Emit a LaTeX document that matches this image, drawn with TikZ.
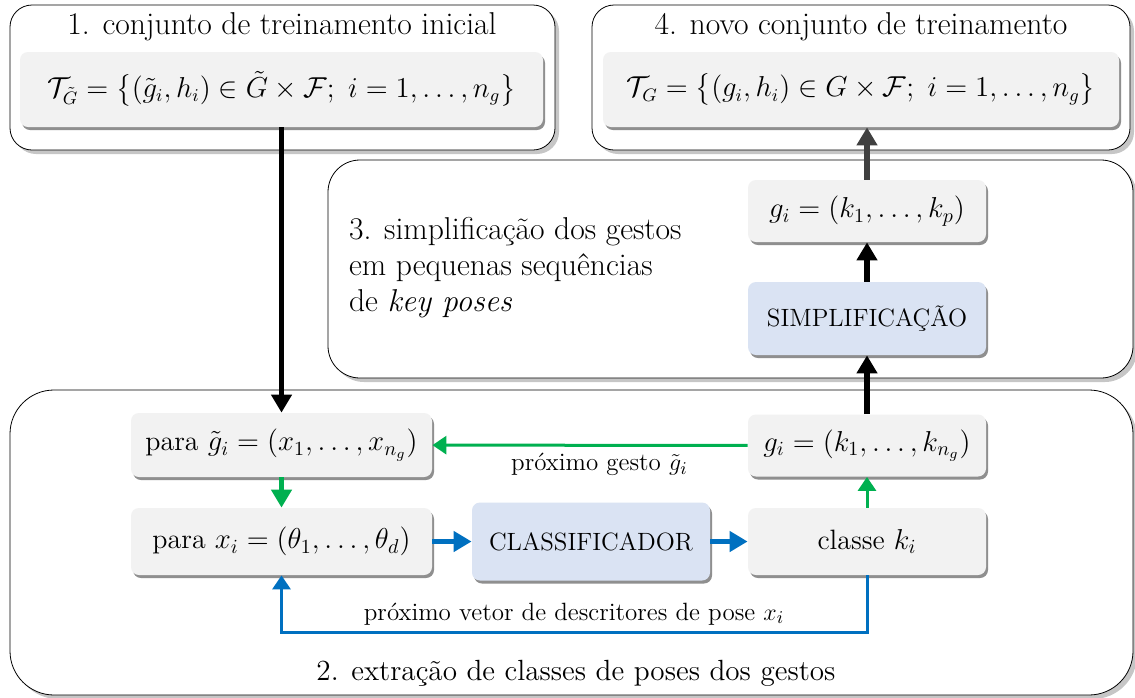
\documentclass[tikz,border=0pt]{standalone}
\usepackage{amsmath,amssymb}
\usepackage{fontspec}
\usepackage{tikz}
\usetikzlibrary{arrows.meta,positioning,shadows}
\definecolor{nodegray}{HTML}{F2F2F2}
\definecolor{nodeblue}{HTML}{DAE3F3}
\definecolor{arrgreen}{HTML}{00B050}
\definecolor{arrblue}{HTML}{0070C0}
\definecolor{arrdark}{HTML}{404040}

\begin{document}
\begin{tikzpicture}[x=0.5pt,y=-0.5pt,>={Triangle[length=9pt,width=10pt]},
		outer box/.style={rectangle,draw,thin,fill=white,inner sep=0pt,
			drop shadow={shadow xshift=2pt,shadow yshift=-2pt,opacity=0.45}},
		main node/.style={rectangle,rounded corners=4pt,fill=nodegray,inner sep=0pt,
			font=\fontsize{14}{17}\selectfont,
			drop shadow={shadow xshift=1pt,shadow yshift=-1.5pt,fill=black!55,opacity=0.8}},
		proc node/.style={main node,fill=nodeblue,font=\fontsize{12.5}{15}\selectfont},
		title node/.style={font=\fontsize{15.8}{18}\selectfont},
		label node/.style={font=\fontsize{12.5}{15}\selectfont},
		thick arrow/.style={->,line width=2.6pt},
		thin arrow/.style={->,line width=1.5pt,>={Triangle[length=7pt,width=9pt]}}]
		
		\useasboundingbox (0,0) rectangle (1135,697);
		
		% outer boxes
		\node[outer box,rounded corners=11pt,minimum width=272.5pt,minimum height=72.5pt] (box1) at (282.5,77.5) {};
		\node[outer box,rounded corners=11pt,minimum width=269pt,minimum height=72.5pt] (box4) at (861,77.5) {};
		\node[outer box,rounded corners=16pt,minimum width=402.5pt,minimum height=109pt] (box3) at (730.5,269) {};
		\node[outer box,rounded corners=22pt,minimum width=561.5pt,minimum height=152.5pt] (box2) at (571.5,542.5) {};
		
		\node[title node] (t1) at (282,27) {1. conjunto de treinamento inicial};
		\node[title node] (t4) at (861,27) {4. novo conjunto de treinamento};
		\node[title node,align=left,anchor=west] (t3) at (342,268) {3. simplificação dos gestos\\em pequenas sequências\\de \textit{key poses}};
		\node[title node,font=\fontsize{14.6}{18}\selectfont] (t2) at (576,673) {2. extração de classes de poses dos gestos};
		
		% training sets
		\node[main node,minimum width=261.5pt,minimum height=37.5pt,font=\fontsize{13.3}{16}\selectfont] (set1) at (281.5,89.5)
			{$\mathcal{T}_{\tilde{G}}=\bigl\{(\tilde{g}_i,h_i)\in\tilde{G}\times\mathcal{F};\ i=1,\ldots,n_g\bigr\}$};
		\node[main node,minimum width=258pt,minimum height=37.5pt,font=\fontsize{13.3}{16}\selectfont] (set4) at (861,89.5)
			{$\mathcal{T}_{G}=\bigl\{(g_i,h_i)\in G\times\mathcal{F};\ i=1,\ldots,n_g\bigr\}$};
		
		% step 3
		\node[main node,minimum width=119pt,minimum height=31pt] (gkp) at (867,211) {$g_i=(k_1,\ldots,k_p)$};
		\node[proc node,minimum width=119pt,minimum height=36.5pt] (simp) at (867,318.5) {SIMPLIFICAÇÃO};
		
		% step 2
		\node[main node,minimum width=150.5pt,minimum height=32pt] (pg) at (281.5,445) {para $\tilde{g}_i=(x_1,\ldots,x_{n_g})$};
		\node[main node,minimum width=150.5pt,minimum height=33.5pt] (px) at (281.5,541.5) {para $x_i=(\theta_1,\ldots,\theta_d)$};
		\node[proc node,minimum width=119pt,minimum height=39pt] (clf) at (591,541.5) {CLASSIFICADOR};
		\node[main node,minimum width=119pt,minimum height=33.5pt] (ck) at (867,541.5) {classe $k_i$};
		\node[main node,minimum width=119pt,minimum height=31pt] (gk) at (867,445.5) {$g_i=(k_1,\ldots,k_{n_g})$};
		
		\coordinate (loop) at (574,632);
		
		% connectors
		\draw[thick arrow] (set1) -- (pg);
		\draw[thick arrow,arrgreen] (pg) -- (px);
		\draw[thick arrow,arrblue] (px) -- (clf);
		\draw[thick arrow,arrblue] (clf) -- (ck);
		\draw[thin arrow,arrgreen] (ck) -- (gk);
		\draw[thin arrow,arrgreen] (gk) -- node[label node,below,black,pos=0.47] {próximo gesto $\tilde{g}_i$} (pg);
		\draw[thin arrow,arrblue] (ck.south) |- (loop) -| (px.south);
		\node[label node,above] (lbl) at (loop) {próximo vetor de descritores de pose $x_i$};
		\draw[thick arrow] (gk) -- (simp);
		\draw[thick arrow] (simp) -- (gkp);
		\draw[thick arrow,arrdark] (gkp.north) -- (gkp.north |- set4.south);
		
\end{tikzpicture}
\end{document}
